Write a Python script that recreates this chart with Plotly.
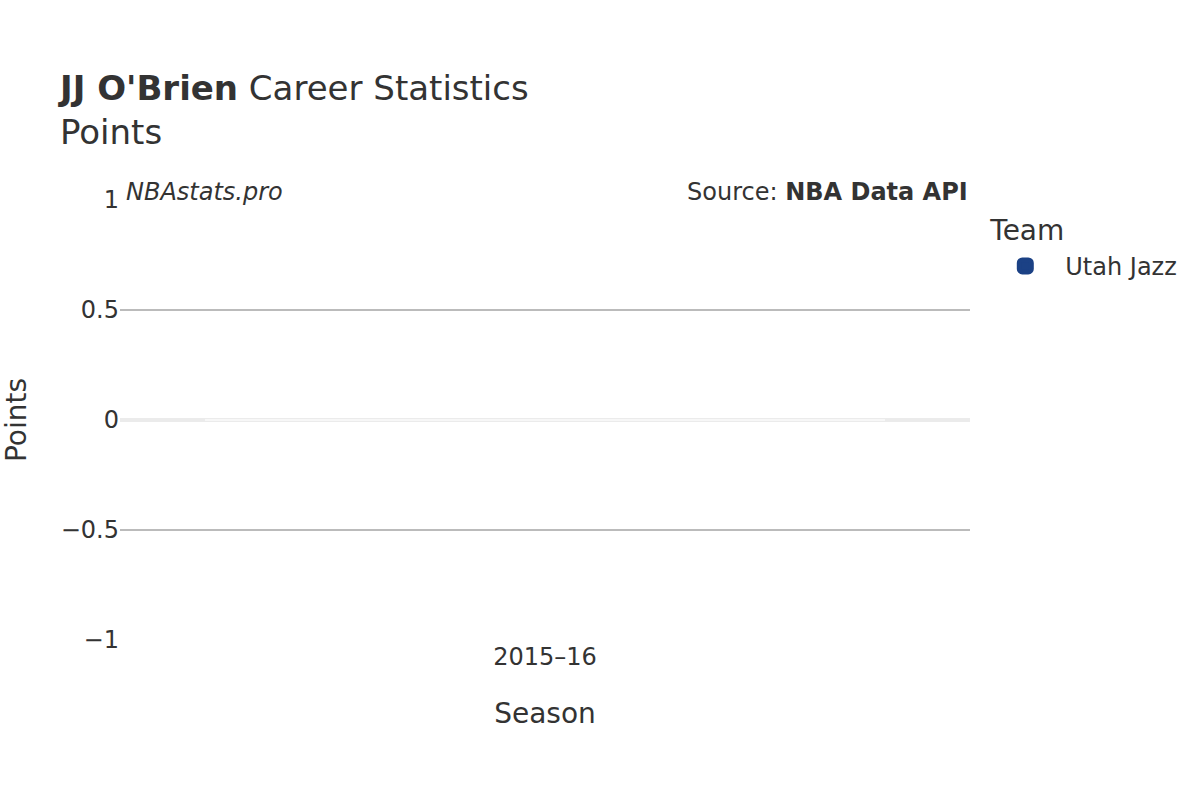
import plotly.graph_objects as go

# data
player = "JJ O'Brien"
stat_name = "Points"
seasons = ["2015–16"]
teams = ["Utah Jazz"]
points = [0]
team_colors = ["#1b4185"]

fig = go.Figure()

for team, color in zip(teams, team_colors):
    fig.add_trace(go.Bar(
        x=seasons,
        y=points,
        name=team,
        legendgroup=team,
        showlegend=False,
        marker=dict(color=color, cornerradius=4,
                    line=dict(color="rgba(255,255,255,0.6)", width=2)),
    ))
    # legend entry only (thicker outline gives the bigger swatch)
    fig.add_trace(go.Bar(
        x=[None], y=[None],
        name=team,
        legendgroup=team,
        legendgrouptitle=dict(text="Team", font=dict(size=28)),
        marker=dict(color=color, cornerradius=4,
                    line=dict(color=color, width=5)),
    ))

fig.update_layout(
    width=1200,
    height=800,
    template="plotly_white",
    font=dict(family="DejaVu Sans", color="#333333", size=24),
    title=dict(
        text=f"<b>{player}</b> Career Statistics<br>{stat_name}",
        x=0.05, xanchor="left", y=0.875, yanchor="top",
        font=dict(size=34),
    ),
    margin=dict(l=120, r=230, t=200, b=160),
    legend=dict(font=dict(size=24), x=1.018, y=0.99, yanchor="top",
                itemwidth=70),
    xaxis=dict(title=dict(text="Season", font=dict(size=28), standoff=33),
               tickfont=dict(size=24), showgrid=False),
    yaxis=dict(title=dict(text=stat_name, font=dict(size=28), standoff=28),
               automargin=False,
               tickfont=dict(size=24), gridcolor="#bbbbbb", gridwidth=1.5,
               zerolinecolor="#ebebeb", zerolinewidth=4),
    annotations=[
        dict(text="<i>NBAstats.pro</i>", xref="paper", yref="paper",
             x=0.005, y=1, xanchor="left", yanchor="middle", yshift=8,
             showarrow=False, font=dict(size=24)),
        dict(text="Source: <b>NBA Data API</b>", xref="paper", yref="paper",
             x=1, y=1, xanchor="right", yanchor="middle", yshift=8,
             showarrow=False, font=dict(size=24)),
    ],
)

fig.write_html("out.html", config={"displayModeBar": False},
               post_script="document.body.style.margin = '0px';")
